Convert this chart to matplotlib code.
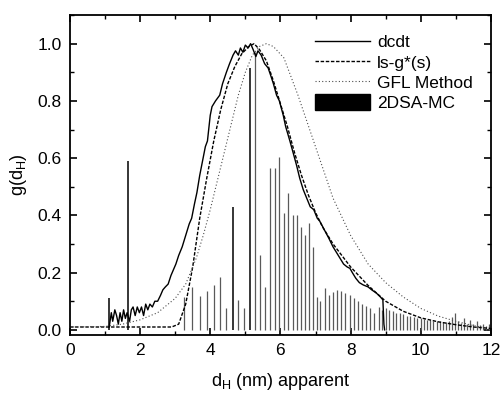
import numpy as np
import matplotlib
matplotlib.use('Agg')
import matplotlib.pyplot as plt
from matplotlib.patches import Patch
from matplotlib.ticker import MultipleLocator

plt.rcParams['font.family'] = ['Liberation Sans', 'DejaVu Sans']
plt.rcParams['mathtext.default'] = 'regular'

# dcdt (solid, noisy)
dcdt_x = [1.12, 1.18, 1.22, 1.28, 1.33, 1.38, 1.43, 1.48, 1.53, 1.58, 1.63, 1.70, 1.75, 1.80,
          1.86, 1.92, 1.98, 2.04, 2.10, 2.16, 2.22, 2.28, 2.35, 2.42, 2.50, 2.58, 2.65, 2.72,
          2.80, 2.88, 2.95, 3.02, 3.10, 3.20, 3.30, 3.40, 3.47, 3.55, 3.62, 3.70, 3.78, 3.86,
          3.92, 4.00, 4.05, 4.15, 4.27, 4.35, 4.46, 4.55, 4.65, 4.72, 4.80, 4.86, 4.93, 5.00,
          5.08, 5.15, 5.22, 5.30, 5.36, 5.45, 5.55, 5.65, 5.72, 5.80, 5.89, 5.97, 6.08, 6.15,
          6.27, 6.36, 6.46, 6.55, 6.65, 6.75, 6.85, 6.95, 7.05, 7.12, 7.25, 7.38, 7.50, 7.65,
          7.80, 7.90, 7.98, 8.05, 8.15, 8.25, 8.36, 8.50, 8.60, 8.74, 8.85, 8.92, 8.95, 8.97]
dcdt_y = [0.01, 0.06, 0.03, 0.07, 0.05, 0.02, 0.06, 0.03, 0.07, 0.04, 0.06, 0.03, 0.07, 0.08,
          0.05, 0.08, 0.06, 0.08, 0.05, 0.09, 0.07, 0.09, 0.08, 0.10, 0.10, 0.12, 0.14, 0.15,
          0.16, 0.19, 0.21, 0.23, 0.26, 0.29, 0.33, 0.37, 0.39, 0.44, 0.48, 0.54, 0.59, 0.64,
          0.66, 0.75, 0.78, 0.80, 0.82, 0.86, 0.90, 0.93, 0.96, 0.975, 0.96, 0.985, 0.97, 0.995,
          0.985, 1.0, 0.98, 0.955, 0.975, 0.96, 0.93, 0.915, 0.89, 0.86, 0.82, 0.80, 0.75, 0.71,
          0.66, 0.62, 0.575, 0.53, 0.49, 0.46, 0.43, 0.42, 0.39, 0.38, 0.35, 0.32, 0.29, 0.26,
          0.23, 0.22, 0.215, 0.20, 0.18, 0.165, 0.157, 0.15, 0.14, 0.128, 0.115, 0.105, 0.02, 0.0]

# ls-g*(s) (dashed)
lsg_x = [0.0, 2.9, 3.1, 3.3, 3.5, 3.7, 3.9, 4.1, 4.3, 4.5, 4.7, 4.9, 5.1, 5.25, 5.4, 5.6,
         5.8, 6.0, 6.2, 6.4, 6.6, 6.8, 7.0, 7.2, 7.5, 8.0, 8.5, 9.0, 9.5, 10.0, 10.5, 11.0,
         11.5, 12.0]
lsg_y = [0.01, 0.01, 0.02, 0.09, 0.22, 0.39, 0.53, 0.66, 0.77, 0.86, 0.92, 0.965, 0.99, 1.0,
         0.98, 0.94, 0.87, 0.79, 0.71, 0.62, 0.54, 0.47, 0.41, 0.36, 0.30, 0.22, 0.155, 0.10,
         0.065, 0.042, 0.028, 0.018, 0.01, 0.005]

# GFL Method (dotted)
gfl_x = [0.0, 1.0, 1.5, 2.0, 2.5, 3.0, 3.3, 3.6, 3.8, 4.0, 4.2, 4.4, 4.6, 4.8, 5.0, 5.2,
         5.4, 5.6, 5.8, 6.1, 6.5, 7.0, 7.5, 8.0, 8.5, 9.0, 9.5, 10.0, 10.5, 11.0, 11.5, 11.8]
gfl_y = [0.01, 0.012, 0.02, 0.035, 0.06, 0.11, 0.16, 0.25, 0.33, 0.42, 0.52, 0.62, 0.72,
         0.82, 0.90, 0.96, 0.99, 1.0, 0.99, 0.95, 0.82, 0.64, 0.46, 0.33, 0.23, 0.165, 0.115,
         0.075, 0.048, 0.03, 0.015, 0.008]

# 2DSA-MC bars
bar_x = [1.12, 1.65, 3.25, 3.48, 3.71, 3.91, 4.10, 4.29, 4.46, 4.64, 4.80, 4.95, 5.13, 5.27,
         5.42, 5.56, 5.70, 5.84, 5.97, 6.10, 6.23, 6.35, 6.47, 6.58, 6.70, 6.82, 6.93, 7.03,
         7.14, 7.26, 7.38, 7.50, 7.62, 7.74, 7.85, 7.97, 8.09, 8.21, 8.33, 8.45, 8.56, 8.68,
         8.80, 8.90, 9.00, 9.10, 9.20, 9.30, 9.40, 9.50, 9.60, 9.70, 9.80, 9.90, 10.00, 10.09,
         10.18, 10.27, 10.36, 10.45, 10.54, 10.63, 10.72, 10.81, 10.90, 10.97, 11.05, 11.14,
         11.23, 11.32, 11.41, 11.50, 11.59, 11.68, 11.77, 11.86, 11.95]
bar_h = [0.11, 0.59, 0.116, 0.15, 0.12, 0.137, 0.157, 0.183, 0.077, 0.43, 0.105, 0.077, 0.916,
         0.97, 0.26, 0.15, 0.566, 0.566, 0.605, 0.41, 0.478, 0.40, 0.40, 0.36, 0.33, 0.373, 0.29,
         0.116, 0.10, 0.146, 0.122, 0.134, 0.14, 0.136, 0.129, 0.122, 0.11, 0.10, 0.09, 0.084,
         0.076, 0.06, 0.08, 0.07, 0.075, 0.07, 0.065, 0.06, 0.058, 0.055, 0.05, 0.048, 0.045,
         0.043, 0.04, 0.038, 0.036, 0.034, 0.032, 0.03, 0.03, 0.028, 0.027, 0.03, 0.045, 0.06,
         0.03, 0.025, 0.04, 0.022, 0.035, 0.02, 0.03, 0.018, 0.02, 0.015, 0.02]
dark_bars = [1.12, 1.65, 4.64, 5.13]

fig = plt.figure(figsize=(5.03, 3.96), dpi=100)
ax = fig.add_axes([0.139, 0.154, 0.837, 0.808])

bx = np.array(bar_x)
bh = np.array(bar_h)
dark = np.isin(bx, dark_bars)
ax.vlines(bx[~dark], 0, bh[~dark], colors='0.35', linewidth=0.9)
ax.vlines(bx[dark], 0, bh[dark], colors='black', linewidth=1.1)

ax.plot(dcdt_x, dcdt_y, color='black', linewidth=1.0)
ax.plot(lsg_x, lsg_y, color='black', linewidth=1.0, dashes=(2.5, 1.2))
ax.plot(gfl_x, gfl_y, color='0.3', linewidth=0.8, dashes=(1, 2))

ax.set_xlim(0, 12)
ax.set_ylim(-0.018, 1.10)
ax.xaxis.set_major_locator(MultipleLocator(2))
ax.xaxis.set_minor_locator(MultipleLocator(1))
ax.yaxis.set_major_locator(MultipleLocator(0.2))
ax.yaxis.set_minor_locator(MultipleLocator(0.1))
ax.yaxis.set_major_formatter(matplotlib.ticker.FormatStrFormatter('%.1f'))
ax.tick_params(which='both', direction='in', top=True, right=True, labelsize=12.5)
ax.tick_params(which='major', length=5, width=1.2, pad=6)
ax.tick_params(which='minor', length=3, width=1.0)
for s in ax.spines.values():
    s.set_linewidth(1.3)

ax.set_xlabel(r'd$_H$ (nm) apparent', fontsize=13, labelpad=9)
ax.set_ylabel(r'g(d$_H$)', fontsize=13, labelpad=6)

handles = [plt.Line2D([], [], color='black', linewidth=1.0),
           plt.Line2D([], [], color='black', linewidth=1.0, dashes=(2.5, 1.2)),
           plt.Line2D([], [], color='0.3', linewidth=0.8, dashes=(1, 2)),
           Patch(facecolor='black', edgecolor='black')]
ax.legend(handles, ['dcdt', 'ls-g*(s)', 'GFL Method', '2DSA-MC'], loc='upper right',
          frameon=False, fontsize=12.5, handlelength=3.2, handleheight=1.0,
          labelspacing=0.2, handletextpad=0.4, borderaxespad=0.4,
          bbox_to_anchor=(0.99, 0.985))

fig.savefig('out.png', dpi=100)
